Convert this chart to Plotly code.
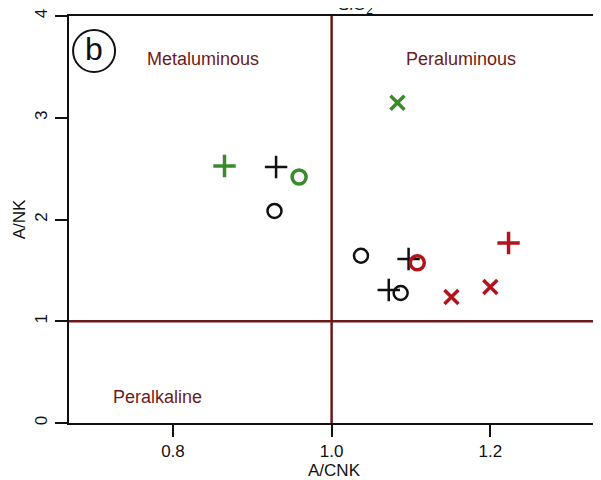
import plotly.graph_objects as go

# ---- data ----
black_plus_x = [0.930, 1.097, 1.072]
black_plus_y = [2.516, 1.612, 1.307]
black_circle_x = [0.928, 1.037, 1.087]
black_circle_y = [2.084, 1.644, 1.278]
green_plus_x = [0.865]
green_plus_y = [2.526]
green_circle_x = [0.959]
green_circle_y = [2.418]
green_x_x = [1.083]
green_x_y = [3.148]
red_plus_x = [1.223]
red_plus_y = [1.769]
red_circle_x = [1.108]
red_circle_y = [1.575]
red_x_x = [1.151, 1.200]
red_x_y = [1.238, 1.337]

x_ticks = [0.8, 1.0, 1.2]
x_tick_labels = ["0.8", "1.0", "1.2"]
y_ticks = [0, 1, 2, 3, 4]
y_tick_labels = ["0", "1", "2", "3", "4"]

region_labels = ["Metaluminous", "Peraluminous", "Peralkaline"]
region_x = [0.838, 1.1635, 0.780]
region_y = [3.577, 3.577, 0.256]

BLACK = "#111111"
GREEN = "#3A8A2C"
RED = "#B3141C"
DARKRED = "#6E1A1A"
FONT = "Liberation Sans, Arial, sans-serif"

fig = go.Figure()


def add(xs, ys, symbol, color, size, lw):
    fig.add_trace(go.Scatter(
        x=xs, y=ys, mode="markers",
        marker=dict(symbol=symbol, size=size, color=color,
                    line=dict(color=color, width=lw)),
        showlegend=False, hoverinfo="skip"))


add(black_plus_x, black_plus_y, "cross-thin-open", BLACK, 16, 2.5)
add(black_circle_x, black_circle_y, "circle-open", BLACK, 14, 2.5)
add(green_plus_x, green_plus_y, "cross-thin-open", GREEN, 16, 3.5)
add(green_circle_x, green_circle_y, "circle-open", GREEN, 14, 3.5)
add(green_x_x, green_x_y, "x-thin-open", GREEN, 14, 3.5)
add(red_plus_x, red_plus_y, "cross-thin-open", RED, 16, 3.5)
add(red_circle_x, red_circle_y, "circle-open", RED, 14, 3.5)
add(red_x_x, red_x_y, "x-thin-open", RED, 14, 3.5)

x_range = [0.669, 1.337]
y_range = [0, 4]

# reference lines
fig.add_shape(type="line", x0=1.0, x1=1.0, y0=y_range[0], y1=y_range[1],
              xref="x", yref="y", line=dict(color=DARKRED, width=2.5), layer="below")
fig.add_shape(type="line", x0=x_range[0], x1=x_range[1], y0=1, y1=1,
              xref="x", yref="y", line=dict(color=DARKRED, width=2.5), layer="below")

# circled "b"
fig.add_shape(type="circle", xref="x", yref="y", xsizemode="pixel", ysizemode="pixel",
              xanchor=0.7006, yanchor=3.656, x0=-21, x1=21, y0=-21, y1=21,
              line=dict(color=BLACK, width=2))
fig.add_annotation(x=0.7006, y=3.656, xref="x", yref="y", text="b", showarrow=False,
                   font=dict(family=FONT, size=32, color=BLACK), yshift=2)

for t, x, y in zip(region_labels, region_x, region_y):
    fig.add_annotation(x=x, y=y, xref="x", yref="y", text=t, showarrow=False,
                       font=dict(family=FONT, size=18, color=DARKRED))

# clipped top title
fig.add_annotation(x=0.54, xref="paper", y=1, yref="paper", text="SiO<sub>2</sub>",
                   showarrow=False, yanchor="bottom", yshift=-3,
                   font=dict(family=FONT, size=17, color=BLACK))

fig.update_layout(
    width=593, height=472,
    margin=dict(l=61, r=2, t=8, b=57),
    plot_bgcolor="white", paper_bgcolor="white",
    font=dict(family=FONT, size=17, color=BLACK),
    xaxis=dict(range=x_range, tickvals=x_ticks, ticktext=x_tick_labels,
               showgrid=False, zeroline=False, showline=True, mirror=True,
               linecolor=BLACK, linewidth=2, ticks="outside", ticklen=12,
               tickwidth=2, tickcolor=BLACK, tickfont=dict(size=17),
               automargin=False,
               title=dict(text="A/CNK", font=dict(size=17), standoff=0)),
    yaxis=dict(range=y_range, tickvals=y_ticks, ticktext=y_tick_labels,
               showgrid=False, zeroline=False, showline=True, mirror=True,
               linecolor=BLACK, linewidth=2, ticks="outside", ticklen=12,
               tickwidth=2, tickcolor=BLACK, tickangle=-90, tickfont=dict(size=17),
               automargin=False, ticklabelstandoff=1,
               title=dict(text="A/NK", font=dict(size=17), standoff=2)),
)

fig.write_html("out.html")
